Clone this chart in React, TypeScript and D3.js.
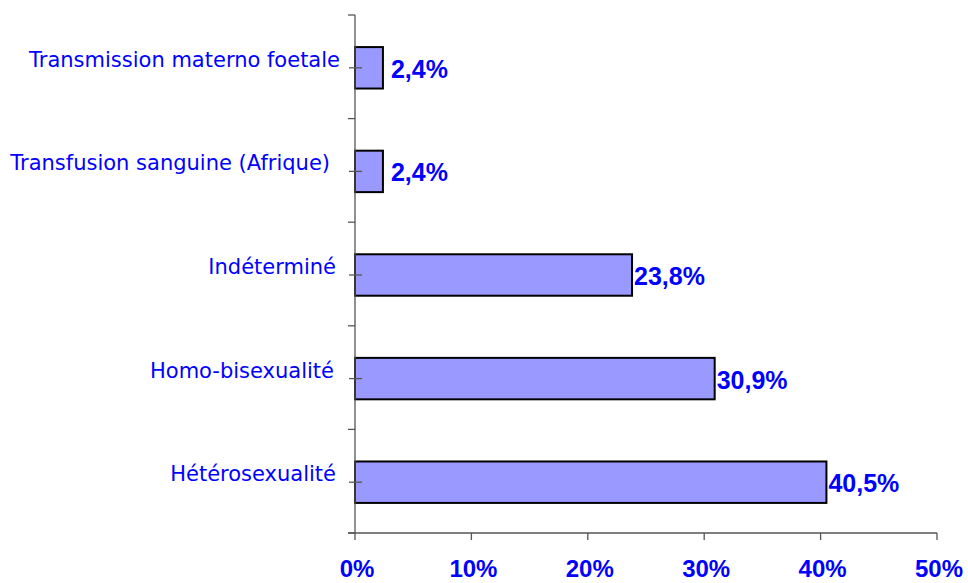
import React from "react";
import * as d3 from "d3";

const categories = [
  "Transmission materno foetale",
  "Transfusion sanguine (Afrique)",
  "Indéterminé",
  "Homo-bisexualité",
  "Hétérosexualité",
];
const values = [2.4, 2.4, 23.8, 30.9, 40.5];
const valueLabels = ["2,4%", "2,4%", "23,8%", "30,9%", "40,5%"];
const xTicks = [0, 10, 20, 30, 40, 50];

export default function App() {
  const W = 968;
  const H = 583;
  const x0 = 355;
  const x1 = 937;
  const yTop = 15;
  const yBot = 533;
  const x = d3.scaleLinear().domain([0, 50]).range([x0, x1]);
  const y = d3.scaleBand<string>().domain(categories).range([yTop, yBot]).paddingInner(0.6).paddingOuter(0.3);
  const band = (yBot - yTop) / categories.length;
  const axisColor = "#555";
  const blue = "#0000FF";
  const labelRight = [340, 330, 336, 334, 336];
  return (
    <svg width={W} height={H} style={{ position: "absolute", left: 0, top: 0 }}>
      <rect width={W} height={H} fill="#fff" />
      {categories.map((c, i) => (
        <rect
          key={c}
          x={x(0)}
          y={y(c)! + 1}
          width={x(values[i]) - x(0)}
          height={y.bandwidth()}
          fill="#9999FF"
          stroke="#000"
          strokeWidth={2}
        />
      ))}
      {/* y axis */}
      <line x1={x0} x2={x0} y1={yTop} y2={yBot} stroke={axisColor} strokeWidth={1.3} />
      {d3.range(categories.length + 1).map((i) => (
        <line key={"b" + i} x1={x0 - 7} x2={x0} y1={yTop + i * band} y2={yTop + i * band} stroke={axisColor} strokeWidth={1.3} />
      ))}
      {categories.map((c) => {
        const cy = y(c)! + y.bandwidth() / 2 + 1;
        return <line key={"t" + c} x1={x0 - 6} x2={x0 + 7} y1={cy} y2={cy} stroke={axisColor} strokeWidth={1.3} />;
      })}
      {/* x axis */}
      <line x1={x0 - 7} x2={x1} y1={yBot} y2={yBot} stroke={axisColor} strokeWidth={1.3} />
      {xTicks.map((t) => (
        <line key={"x" + t} x1={x(t)} x2={x(t)} y1={yBot} y2={yBot + 7} stroke={axisColor} strokeWidth={1.3} />
      ))}
      {xTicks.map((t) => (
        <text
          key={"xl" + t}
          x={x(t) + 2}
          y={568}
          textAnchor="middle"
          dominantBaseline="central"
          fontFamily="Liberation Sans, Arial, sans-serif"
          fontWeight="bold"
          fontSize={24}
          fill={blue}
        >
          {t + "%"}
        </text>
      ))}
      {categories.map((c, i) => (
        <text
          key={"cl" + c}
          x={labelRight[i]}
          y={y(c)! + y.bandwidth() / 2 - 7}
          textAnchor="end"
          dominantBaseline="central"
          fontFamily="DejaVu Sans, sans-serif"
          fontSize={21}
          fill={blue}
        >
          {c}
        </text>
      ))}
      {categories.map((c, i) => (
        <text
          key={"vl" + c}
          x={x(values[i]) + (values[i] > 10 ? 2 : 8)}
          y={y(c)! + y.bandwidth() / 2 + 2}
          dominantBaseline="central"
          fontFamily="Liberation Sans, Arial, sans-serif"
          fontWeight="bold"
          fontSize={25}
          fill={blue}
        >
          {valueLabels[i]}
        </text>
      ))}
    </svg>
  );
}
